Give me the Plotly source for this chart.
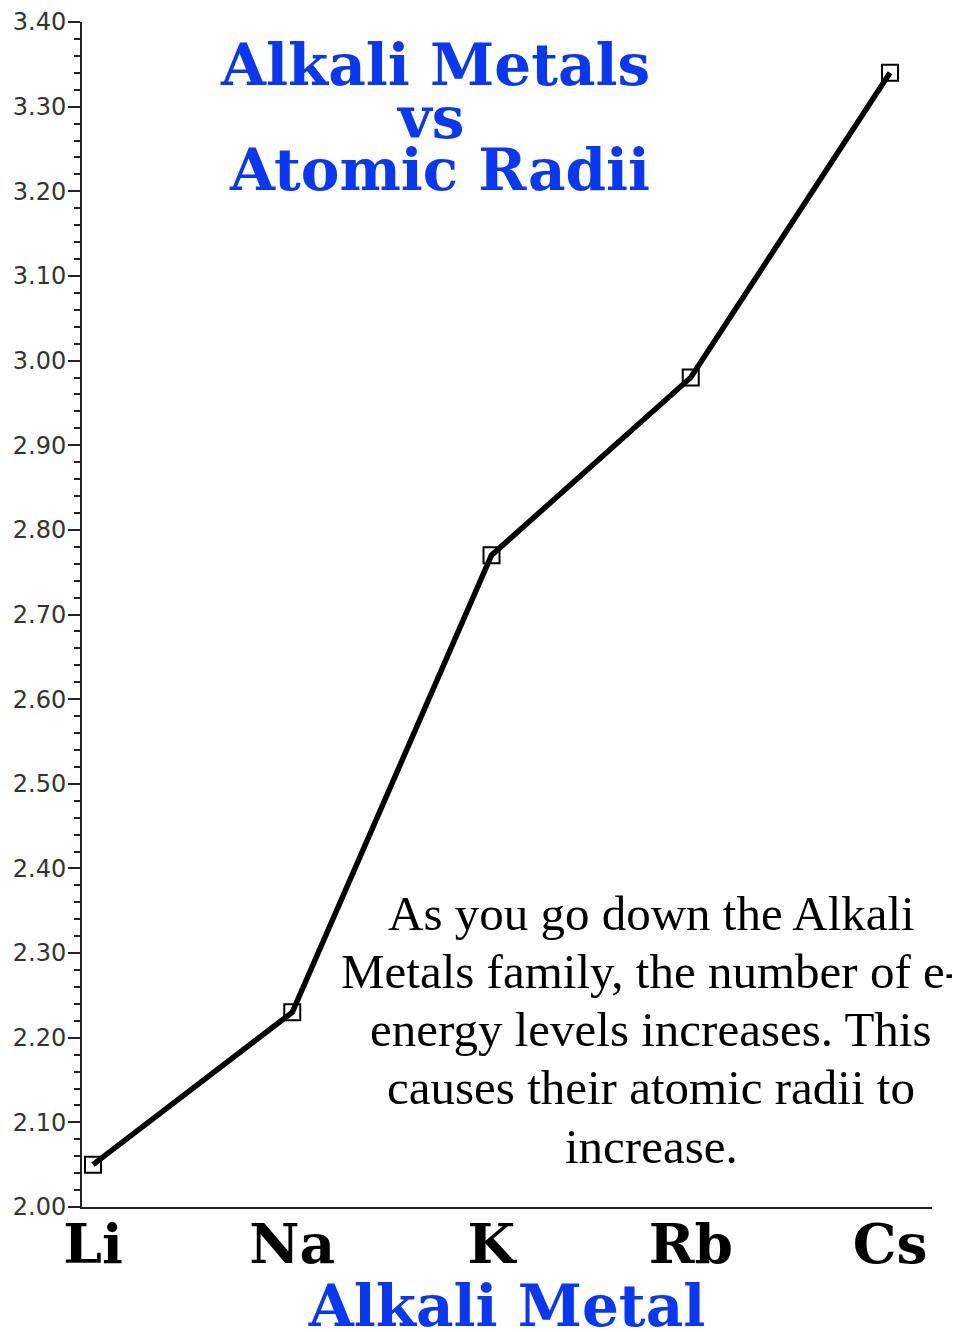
import plotly.graph_objects as go

# ---- data ----
metals = ["Li", "Na", "K", "Rb", "Cs"]
radii = [2.05, 2.23, 2.77, 2.98, 3.34]
x_pos = [0, 1, 2, 3, 4]
y_ticks = [2.0, 2.1, 2.2, 2.3, 2.4, 2.5, 2.6, 2.7, 2.8, 2.9, 3.0, 3.1, 3.2, 3.3, 3.4]
title_lines = ["Alkali Metals", "vs", "Atomic Radii"]
note_lines = [
    "As you go down the Alkali",
    "Metals family, the number of e-",
    "energy levels increases. This",
    "causes their atomic radii to",
    "increase.",
]

W, H = 960, 1332
OFF = 8  # default page body margin
# plot area on screen: x 82..932, y 22..1207
L, T = 82 - OFF, 22 - OFF
R = W - (932 - OFF)
B = H - (1207 - OFF)
PW, PH = W - L - R, H - T - B


def px(xs):
    return (xs - OFF - L) / PW


def py(ys):
    return (H - B - (ys - OFF)) / PH


BLUE = "#0a37f0"

fig = go.Figure()
fig.add_trace(go.Scatter(
    x=x_pos, y=radii, mode="lines+markers",
    line=dict(color="black", width=5.5),
    marker=dict(symbol="square-open", size=16, color="black", line=dict(width=2)),
    cliponaxis=False, showlegend=False,
))

annotations = []
# title (three lines)
for txt, cx, cy in zip(title_lines, [435, 430, 439], [65, 118, 170]):
    annotations.append(dict(
        text=txt, x=px(cx), y=py(cy), xref="paper", yref="paper",
        xanchor="center", yanchor="middle", showarrow=False,
        font=dict(family="DejaVu Serif", size=58, color=BLUE, weight="bold"),
    ))
# note text
for i, txt in enumerate(note_lines):
    annotations.append(dict(
        text=txt, x=px(651), y=py(913 + 58.25 * i), xref="paper", yref="paper",
        xanchor="center", yanchor="middle", showarrow=False,
        font=dict(family="Liberation Serif", size=49, color="black"),
    ))

fig.update_layout(
    width=W, height=H,
    margin=dict(l=L, r=R, t=T, b=B, autoexpand=False),
    paper_bgcolor="white", plot_bgcolor="white",
    annotations=annotations,
    xaxis=dict(
        range=[-(93 - 82) / 199.25, (932 - 93) / 199.25],
        tickmode="array", tickvals=x_pos, ticktext=metals,
        ticks="", showgrid=False, zeroline=False, automargin=False,
        showline=True, linecolor="#222", linewidth=2,
        tickfont=dict(family="DejaVu Serif", size=55, color="black", weight="bold"),
        ticklabelstandoff=-12,
        title=dict(text="Alkali Metal", standoff=0,
                   font=dict(family="DejaVu Serif", size=58, color=BLUE, weight="bold")),
    ),
    yaxis=dict(
        range=[2.0, 3.4], tickmode="array", tickvals=y_ticks,
        ticktext=[f"{v:.2f}" for v in y_ticks],
        ticks="outside", ticklen=12, tickwidth=2, tickcolor="#222",
        minor=dict(dtick=0.02, ticks="outside", ticklen=6, tickwidth=2, tickcolor="#222"),
        showgrid=False, zeroline=False, automargin=False,
        showline=True, linecolor="#222", linewidth=2,
        tickfont=dict(family="DejaVu Sans", size=24, color="#333"),
        ticklabelstandoff=-3,
    ),
)

fig.write_html("out.html")
